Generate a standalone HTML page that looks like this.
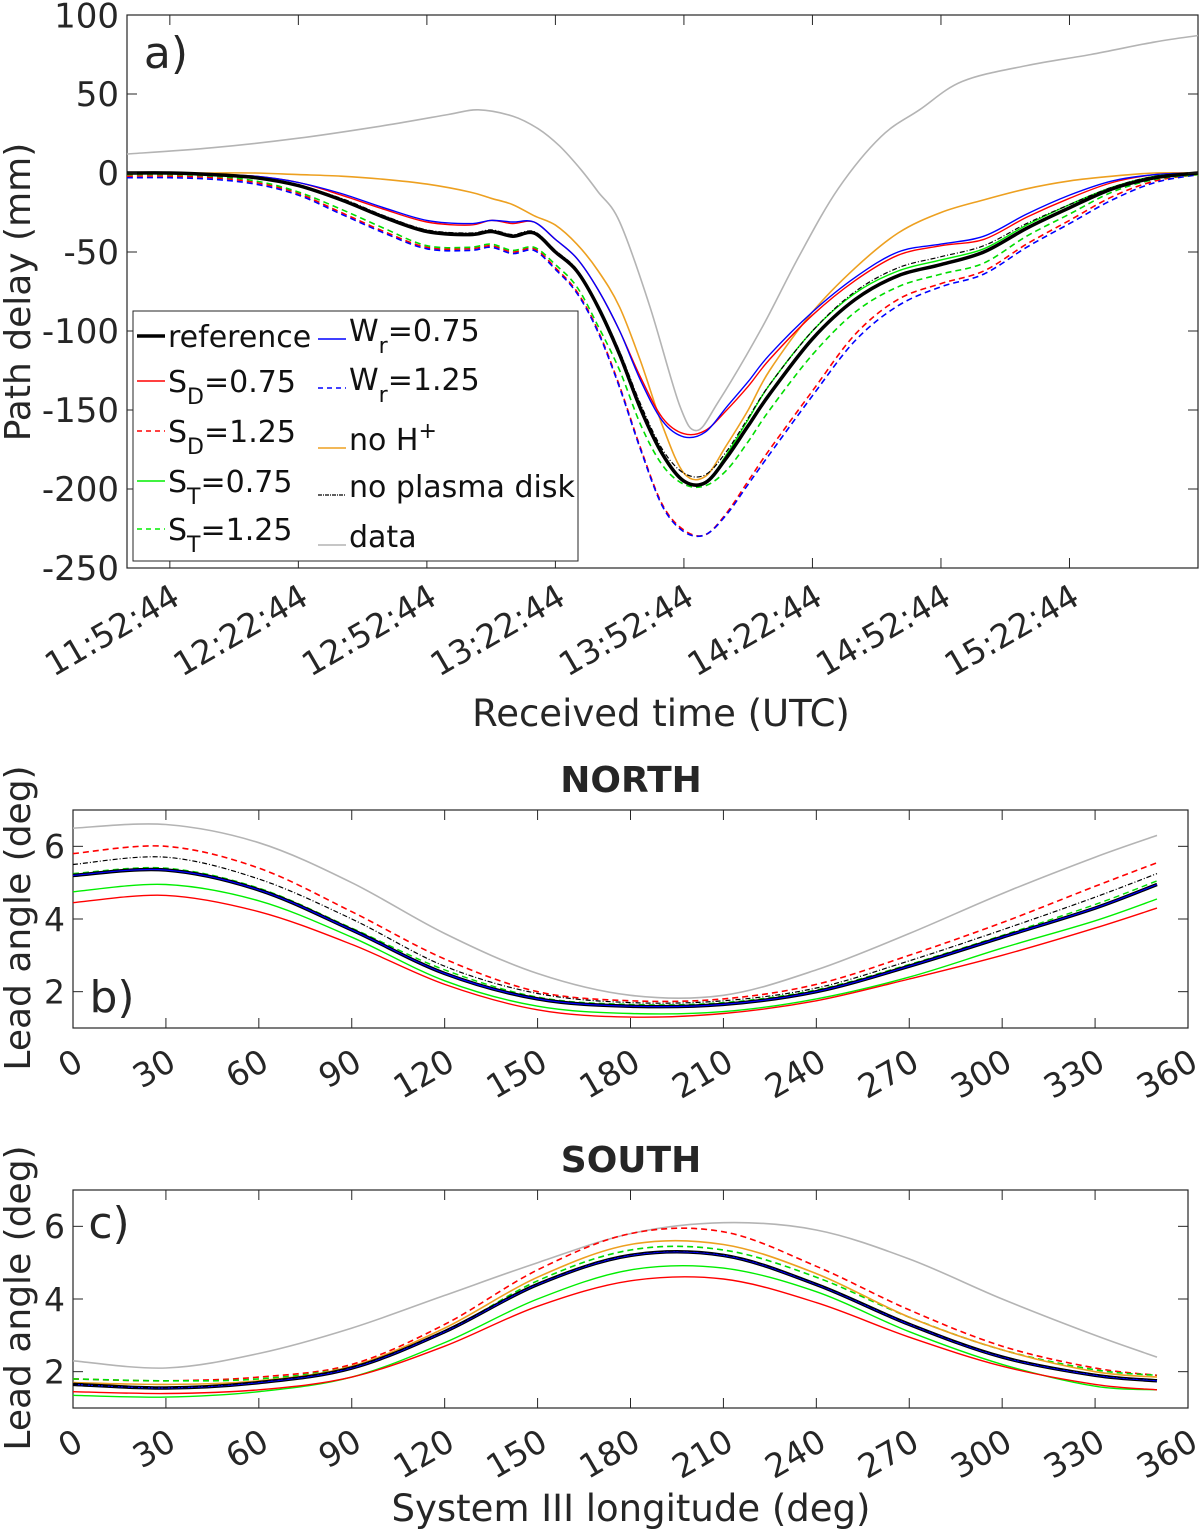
<!DOCTYPE html>
<html><head><meta charset="utf-8"><style>
html,body{margin:0;padding:0;background:#fff}
svg{display:block;font-family:"DejaVu Sans","Liberation Sans",sans-serif}
</style></head><body>
<svg id="fig" width="1200" height="1532" viewBox="0 0 1200 1532"></svg>
<script>
// ---------- Panel a data ----------
const tA = [-10,0,10,20,30,40,50,60,70,75,80,85,90,95,100,105,110,115,120,125,130,135,140,150,160,170,180,190,200,210,220,230,240];
const aTickLabels = ["11:52:44","12:22:44","12:52:44","13:22:44","13:52:44","14:22:44","14:52:44","15:22:44"];
const aTickVals = [0,30,60,90,120,150,180,210];
const aYTicks = [100,50,0,-50,-100,-150,-200,-250];
const aRef   = [0,0,-1,-3,-8,-17,-28,-37,-39,-37,-40,-38,-50,-62,-85,-115,-150,-178,-195,-196,-180,-160,-140,-105,-80,-65,-58,-50,-35,-22,-10,-3,0];
const aSD075 = [0,0,-1,-2,-6,-14,-23,-31,-33,-30,-32,-31,-42,-54,-74,-100,-130,-155,-165,-163,-150,-135,-118,-90,-68,-52,-46,-42,-28,-16,-6,-1,0];
const aSD125 = [-2,-2,-3,-6,-13,-25,-37,-47,-48,-46,-50,-48,-60,-75,-100,-135,-175,-210,-226,-229,-215,-195,-175,-138,-102,-80,-70,-62,-45,-30,-15,-5,-1];
const aST075 = [0,0,-1,-3,-8,-17,-28,-37,-39,-37,-40,-38,-50,-62,-85,-115,-150,-178,-195,-196,-178,-156,-134,-100,-76,-62,-55,-48,-33,-20,-9,-2,0];
const aST125 = [-1,-1,-2,-5,-12,-23,-35,-46,-47,-45,-49,-47,-58,-72,-97,-125,-160,-185,-197,-198,-188,-170,-150,-115,-88,-72,-64,-57,-40,-26,-12,-4,-1];
const aWr075 = [0,0,-1,-2,-6,-13,-22,-30,-32,-30,-31,-31,-42,-54,-74,-100,-132,-157,-167,-164,-148,-132,-115,-88,-66,-50,-45,-40,-26,-14,-5,-1,0];
const aWr125 = [-3,-3,-4,-7,-14,-26,-38,-48,-49,-47,-51,-49,-61,-76,-101,-136,-176,-211,-227,-229,-216,-197,-178,-141,-106,-84,-72,-64,-47,-32,-17,-6,-1];
const aNoH   = [0,0,0,0,-1,-2,-4,-7,-12,-16,-20,-27,-33,-45,-62,-85,-120,-160,-190,-192,-172,-150,-125,-88,-60,-38,-25,-17,-10,-5,-2,0,0];
const aNoPD  = [0,0,-1,-3,-8,-16,-27,-36,-38,-36,-39,-37,-49,-61,-84,-113,-147,-175,-190,-191,-176,-155,-134,-100,-75,-60,-53,-46,-32,-20,-9,-2,0];
const tData  = [-10,10,30,50,65,72,80,86,91,96,100,105,112,119,123,128,138,147,156,166,175,185,200,215,230,240];
const aData  = [12,16,22,30,37,40,36,28,17,2,-12,-31,-84,-147,-163,-145,-99,-52,-10,23,40,58,68,75,83,87];

// ---------- Panels b,c data ----------
const lon = [0,30,60,90,120,150,180,210,240,270,300,330,350];
const lonTicks = [0,30,60,90,120,150,180,210,240,270,300,330,360];
const bcYTicks = [2,4,6];
const nRef  = [5.2,5.35,4.8,3.7,2.5,1.8,1.6,1.65,2.0,2.7,3.5,4.3,4.95];
const nData = [6.5,6.6,6.1,5.0,3.6,2.5,1.9,1.9,2.6,3.6,4.7,5.7,6.3];
const nSD125= [5.8,6.0,5.4,4.2,2.9,2.0,1.75,1.8,2.2,3.0,3.9,4.9,5.55];
const nNoPD = [5.5,5.7,5.1,4.0,2.7,1.95,1.7,1.75,2.1,2.85,3.7,4.6,5.25];
const nST075= [4.75,4.95,4.5,3.5,2.3,1.6,1.4,1.45,1.8,2.4,3.2,3.95,4.55];
const nSD075= [4.45,4.65,4.2,3.3,2.2,1.5,1.3,1.4,1.75,2.35,3.0,3.75,4.3];
const nST125= [5.25,5.4,4.85,3.75,2.6,1.85,1.65,1.7,2.05,2.75,3.55,4.4,5.05];
const nWr   = [5.2,5.35,4.8,3.7,2.5,1.8,1.6,1.65,2.0,2.7,3.5,4.3,4.95];
const nNoH  = [5.2,5.36,4.82,3.72,2.52,1.82,1.62,1.67,2.02,2.72,3.52,4.32,4.97];
const sRef  = [1.65,1.55,1.7,2.1,3.1,4.4,5.2,5.2,4.4,3.3,2.4,1.9,1.75];
const sData = [2.3,2.1,2.5,3.2,4.1,5.0,5.8,6.1,5.9,5.1,4.0,3.0,2.4];
const sSD125= [1.8,1.75,1.85,2.2,3.3,4.8,5.8,5.85,4.9,3.7,2.7,2.1,1.9];
const sNoH  = [1.7,1.65,1.75,2.15,3.2,4.6,5.5,5.5,4.7,3.5,2.6,2.0,1.85];
const sST125= [1.8,1.75,1.8,2.15,3.1,4.5,5.35,5.35,4.6,3.5,2.6,2.05,1.9];
const sST075= [1.35,1.3,1.45,1.85,2.8,4.0,4.8,4.85,4.2,3.1,2.2,1.6,1.5];
const sSD075= [1.45,1.4,1.5,1.85,2.7,3.8,4.5,4.55,3.9,2.95,2.15,1.65,1.5];
const sNoPD = [1.65,1.56,1.72,2.12,3.12,4.42,5.22,5.22,4.42,3.32,2.42,1.92,1.77];

const NS="http://www.w3.org/2000/svg";
const svg=document.getElementById('fig');
function mk(tag,attrs,parent){const e=document.createElementNS(NS,tag);for(const k in attrs)e.setAttribute(k,attrs[k]);(parent||svg).appendChild(e);return e;}
const TC="#262626";

const axA={x0:127,x1:1198,y0:15,y1:568,xmin:-10,xmax:240,ymin:-250,ymax:100};
const axB={x0:73,x1:1188,y0:810,y1:1028,xmin:0,xmax:360,ymin:1,ymax:7};
const axC={x0:73,x1:1188,y0:1190,y1:1408,xmin:0,xmax:360,ymin:1,ymax:7};
function X(ax,v){return ax.x0+(v-ax.xmin)/(ax.xmax-ax.xmin)*(ax.x1-ax.x0);}
function Y(ax,v){return ax.y1-(v-ax.ymin)/(ax.ymax-ax.ymin)*(ax.y1-ax.y0);}

function linePath(ax,xs,ys,smooth){
  const p=xs.map((x,i)=>[X(ax,x),Y(ax,ys[i])]);
  if(!smooth) return "M"+p.map(q=>q[0].toFixed(1)+","+q[1].toFixed(1)).join("L");
  let d="M"+p[0][0]+","+p[0][1];
  for(let i=0;i<p.length-1;i++){
    const p0=p[Math.max(0,i-1)],p1=p[i],p2=p[i+1],p3=p[Math.min(p.length-1,i+2)];
    const c1=[p1[0]+(p2[0]-p0[0])/6,p1[1]+(p2[1]-p0[1])/6];
    const c2=[p2[0]-(p3[0]-p1[0])/6,p2[1]-(p3[1]-p1[1])/6];
    d+="C"+c1[0].toFixed(1)+","+c1[1].toFixed(1)+" "+c2[0].toFixed(1)+","+c2[1].toFixed(1)+" "+p2[0].toFixed(1)+","+p2[1].toFixed(1);
  }
  return d;
}
function series(ax,xs,ys,color,w,dash,name,smooth){
  const e=mk('path',{d:linePath(ax,xs,ys,smooth),fill:'none',stroke:color,'stroke-width':w,'stroke-dasharray':dash||'none','stroke-linejoin':'round'});
  
  
}
function frame(ax,name){
  const r=mk('rect',{x:ax.x0,y:ax.y0,width:ax.x1-ax.x0,height:ax.y1-ax.y0,fill:'none',stroke:'#262626','stroke-width':1.2});
  
  
}
function yTicks(ax,vals,fs,prefix){
  vals.forEach(v=>{
    const y=Y(ax,v);
    mk('line',{x1:ax.x0,x2:ax.x0+10,y1:y,y2:y,stroke:TC,'stroke-width':1});
    mk('line',{x1:ax.x1,x2:ax.x1-10,y1:y,y2:y,stroke:TC,'stroke-width':1});
    const t=mk('text',{x:ax.x0-8,y:y+fs*0.36,'text-anchor':'end','font-size':fs,fill:TC});
    t.textContent=v;
    
    
  });
}
function xTicks(ax,vals,labels,fs,dy,prefix){
  vals.forEach((v,i)=>{
    const x=X(ax,v);
    mk('line',{x1:x,x2:x,y1:ax.y1,y2:ax.y1-10,stroke:TC,'stroke-width':1});
    mk('line',{x1:x,x2:x,y1:ax.y0,y2:ax.y0+10,stroke:TC,'stroke-width':1});
    const ty=ax.y1+dy;
    const t=mk('text',{x:x+12,y:ty,'text-anchor':'end','font-size':fs,fill:TC,transform:'rotate(-30 '+(x+12)+' '+ty+')'});
    t.textContent=labels[i];
    
    
  });
}
function label(x,y,txt,fs,name,rot,weight){
  const t=mk('text',{x:x,y:y,'text-anchor':'middle','font-size':fs,fill:TC,'font-weight':weight||'normal'});
  if(rot) t.setAttribute('transform','rotate(-90 '+x+' '+y+')');
  t.textContent=txt;
  
  
}

// ---------- Panel a ----------
frame(axA,'panel-a-axes');
series(axA,tData,aData,'#b4b4b4',1.6,null,'series-data',true);
series(axA,tA,aNoH,'#eda020',1.6,null,'series-no-h',true);
series(axA,tA,aSD075,'#ff0000',1.4,null,'series-sd-075',true);
series(axA,tA,aWr075,'#0000ff',1.4,null,'series-wr-075',true);
series(axA,tA,aSD125,'#ff0000',1.6,'6,4','series-sd-125',true);
series(axA,tA,aWr125,'#0000ff',1.6,'6,4','series-wr-125',true);
series(axA,tA,aST125,'#00dd00',1.6,'6,4','series-st-125',true);
series(axA,tA,aST075,'#00ee00',1.4,null,'series-st-075',true);
series(axA,tA,aRef,'#000000',3.5,null,'series-reference',true);
series(axA,tA,aNoPD,'#000000',1.2,'5,2,1,2','series-no-plasma-disk',true);
yTicks(axA,aYTicks,34,'a');
xTicks(axA,aTickVals,aTickLabels,33,35,'a');
label(30,292,'Path delay (mm)',36,'y-axis-title-a',true);
label(661,726,'Received time (UTC)',37,'x-axis-title-a');
label(166,68,'a)',44,'panel-label-a');

// legend
const lg=mk('rect',{x:133,y:311,width:445,height:250,fill:'#fff',stroke:'#262626','stroke-width':1});


const legL=[['reference','#000',3.5,null,'',''],['S','#f00',1.4,null,'D','=0.75'],['S','#f00',1.6,'5,4','D','=1.25'],['S','#0e0',1.4,null,'T','=0.75'],['S','#0e0',1.6,'5,4','T','=1.25']];
const legR=[['W','#00f',1.4,null,'r','=0.75'],['W','#00f',1.6,'5,4','r','=1.25'],['no H','#eda020',1.6,null,'+',''],['no plasma disk','#000',1.2,'4,1,1,1','',''],['data','#b4b4b4',1.6,null,'','']];
const rowsL=[337,382,432,482,530], rowsR=[331,380,440,487,537];
function legItem(it,lx,ty,lineY,i,col){
  const g=mk('g',{});
  
  
  mk('line',{x1:lx,x2:lx+28,y1:lineY,y2:lineY,stroke:it[1],'stroke-width':it[2],'stroke-dasharray':it[3]||'none'},g);
  const t=mk('text',{x:lx+31,y:ty,'font-size':30,fill:'#111'},g);
  t.appendChild(document.createTextNode(it[0]));
  if(it[4]){const sp=mk('tspan',{'font-size':22,dy:it[4]==='+'?-12:12},t);sp.textContent=it[4];}
  if(it[5]){const sp=mk('tspan',{dy:it[4]==='+'?12:-12},t);sp.textContent=it[5];}
}
legL.forEach((it,i)=>legItem(it,137,rowsL[i]+10,rowsL[i]-1,i,'left'));
legR.forEach((it,i)=>legItem(it,318,rowsR[i]+10,rowsR[i]+8,i,'right'));

// ---------- Panel b ----------
frame(axB,'panel-b-axes');
series(axB,lon,nData,'#b4b4b4',1.6,null,'north-data',true);
series(axB,lon,nSD125,'#ff0000',1.6,'6,4','north-sd-125',true);
series(axB,lon,nNoPD,'#000',1.2,'5,2,1,2','north-no-plasma-disk',true);
series(axB,lon,nST125,'#00dd00',1.4,'6,4','north-st-125',true);
series(axB,lon,nNoH,'#eda020',1.4,null,'north-no-h',true);
series(axB,lon,nRef,'#000',3.5,null,'north-reference',true);
series(axB,lon,nWr,'#0000ff',1.2,null,'north-wr',true);
series(axB,lon,nST075,'#00ee00',1.4,null,'north-st-075',true);
series(axB,lon,nSD075,'#ff0000',1.4,null,'north-sd-075',true);
yTicks(axB,bcYTicks,33,'b');
xTicks(axB,lonTicks,lonTicks.map(String),33,40,'b');
label(631,792,'NORTH',36,'title-north',false,'bold');
label(30,918,'Lead angle (deg)',36,'y-axis-title-b',true);
label(112,1012,'b)',44,'panel-label-b');

// ---------- Panel c ----------
frame(axC,'panel-c-axes');
series(axC,lon,sData,'#b4b4b4',1.6,null,'south-data',true);
series(axC,lon,sSD125,'#ff0000',1.6,'6,4','south-sd-125',true);
series(axC,lon,sST125,'#00dd00',1.6,'6,4','south-st-125',true);
series(axC,lon,sNoH,'#eda020',1.6,null,'south-no-h',true);
series(axC,lon,sRef,'#000',3.5,null,'south-reference',true);
series(axC,lon,sRef,'#0000ff',1.2,null,'south-wr',true);
series(axC,lon,sNoPD,'#000',1.2,'5,2,1,2','south-no-plasma-disk',true);
series(axC,lon,sST075,'#00ee00',1.4,null,'south-st-075',true);
series(axC,lon,sSD075,'#ff0000',1.4,null,'south-sd-075',true);
yTicks(axC,bcYTicks,33,'c');
xTicks(axC,lonTicks,lonTicks.map(String),33,40,'c');
label(631,1172,'SOUTH',36,'title-south',false,'bold');
label(30,1298,'Lead angle (deg)',36,'y-axis-title-c',true);
label(631,1521,'System III longitude (deg)',37,'x-axis-title-c');
label(109,1238,'c)',44,'panel-label-c');
</script>
</body></html>
